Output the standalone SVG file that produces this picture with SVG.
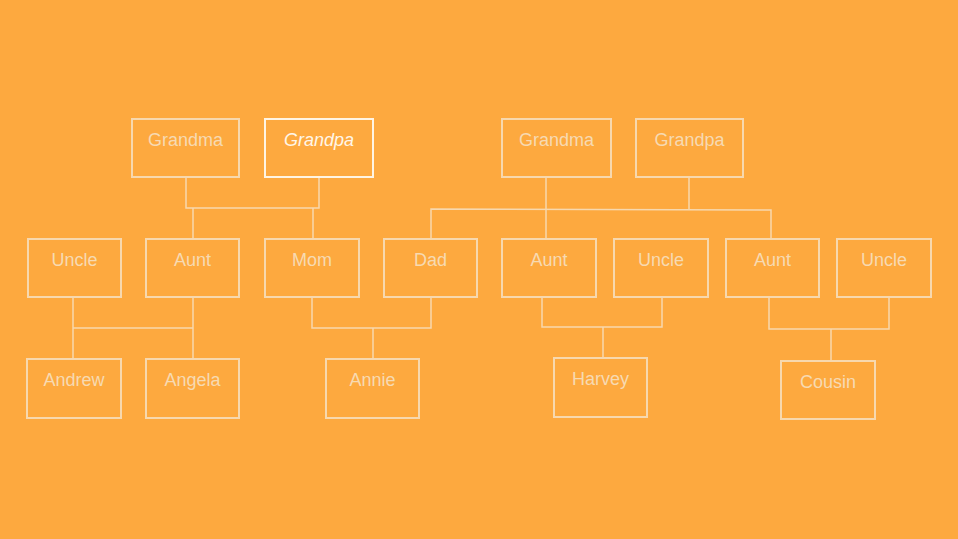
<svg xmlns="http://www.w3.org/2000/svg" width="958" height="539" viewBox="0 0 958 539">
<style>
.bg{fill:#FDA93F}
.box{fill:none;stroke:#F7D8AE;stroke-width:2}
.hl{fill:none;stroke:#FFF4E2;stroke-width:2}
.t{font-family:"Liberation Sans",Arial,sans-serif;font-size:18px;fill:#F7DAB2;text-anchor:middle}
.ti{font-family:"Liberation Sans",Arial,sans-serif;font-size:18px;fill:#FFF6E8;text-anchor:middle;font-style:italic}
.c{fill:none;stroke:#F7D8AE;stroke-width:1.5}
</style>
<rect class="bg" x="0" y="0" width="958" height="539"/>
<g id="connectors">
<polyline class="c" points="186,177 186,208 319,208 319,177"/>
<line class="c" x1="193" y1="208" x2="193" y2="239"/>
<line class="c" x1="313" y1="208" x2="313" y2="239"/>
<line class="c" x1="546" y1="177" x2="546" y2="239"/>
<line class="c" x1="689" y1="177" x2="689" y2="209"/>
<polyline class="c" points="431,239 431,209 771,210 771,239"/>
<line class="c" x1="73" y1="297" x2="73" y2="359"/>
<line class="c" x1="193" y1="297" x2="193" y2="359"/>
<line class="c" x1="73" y1="328" x2="193" y2="328"/>
<polyline class="c" points="312,297 312,328 431,328 431,297"/>
<line class="c" x1="373" y1="328" x2="373" y2="359"/>
<polyline class="c" points="542,297 542,327 662,327 662,297"/>
<line class="c" x1="603" y1="327" x2="603" y2="358"/>
<polyline class="c" points="769,297 769,329 889,329 889,297"/>
<line class="c" x1="831" y1="329" x2="831" y2="361"/>
</g>
<g id="grandma-l"><rect class="box" x="132" y="119" width="107" height="58"/><text class="t" x="185.5" y="146">Grandma</text></g>
<g id="grandpa-l"><rect class="hl" x="265" y="119" width="108" height="58"/><text class="ti" x="319" y="146">Grandpa</text></g>
<g id="grandma-r"><rect class="box" x="502" y="119" width="109" height="58"/><text class="t" x="556.5" y="146">Grandma</text></g>
<g id="grandpa-r"><rect class="box" x="636" y="119" width="107" height="58"/><text class="t" x="689.5" y="146">Grandpa</text></g>
<g id="uncle-1"><rect class="box" x="28" y="239" width="93" height="58"/><text class="t" x="74.5" y="266">Uncle</text></g>
<g id="aunt-1"><rect class="box" x="146" y="239" width="93" height="58"/><text class="t" x="192.5" y="266">Aunt</text></g>
<g id="mom"><rect class="box" x="265" y="239" width="94" height="58"/><text class="t" x="312" y="266">Mom</text></g>
<g id="dad"><rect class="box" x="384" y="239" width="93" height="58"/><text class="t" x="430.5" y="266">Dad</text></g>
<g id="aunt-2"><rect class="box" x="502" y="239" width="94" height="58"/><text class="t" x="549" y="266">Aunt</text></g>
<g id="uncle-2"><rect class="box" x="614" y="239" width="94" height="58"/><text class="t" x="661" y="266">Uncle</text></g>
<g id="aunt-3"><rect class="box" x="726" y="239" width="93" height="58"/><text class="t" x="772.5" y="266">Aunt</text></g>
<g id="uncle-3"><rect class="box" x="837" y="239" width="94" height="58"/><text class="t" x="884" y="266">Uncle</text></g>
<g id="andrew"><rect class="box" x="27" y="359" width="94" height="59"/><text class="t" x="74" y="386">Andrew</text></g>
<g id="angela"><rect class="box" x="146" y="359" width="93" height="59"/><text class="t" x="192.5" y="386">Angela</text></g>
<g id="annie"><rect class="box" x="326" y="359" width="93" height="59"/><text class="t" x="372.5" y="386">Annie</text></g>
<g id="harvey"><rect class="box" x="554" y="358" width="93" height="59"/><text class="t" x="600.5" y="385">Harvey</text></g>
<g id="cousin"><rect class="box" x="781" y="361" width="94" height="58"/><text class="t" x="828" y="388">Cousin</text></g>
</svg>
